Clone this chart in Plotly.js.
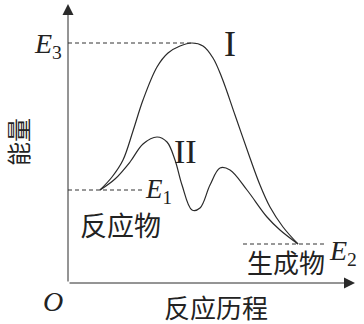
<!DOCTYPE html>
<html>
<head>
<meta charset="utf-8">
<script src="https://cdn.plot.ly/plotly-3.0.1.min.js"></script>
<style>html,body{margin:0;padding:0;background:#fff;}#chart{width:364px;height:324px;}</style>
</head>
<body>
<div id="chart"></div>
<script>
// Reaction progress / energy values
const pathIx = [32, 44, 55, 65, 75, 89, 100, 112, 124, 135, 145, 154, 167, 182, 192, 202, 215, 230];
const pathIy = [93, 106, 123, 152, 183, 216, 230, 237, 240, 237, 225, 205, 168, 125, 98, 76, 56, 39];
const pathIIx = [32, 47, 62, 75, 89, 99, 107, 114, 124, 132, 142, 152, 162, 179, 199, 212, 230];
const pathIIy = [93, 104, 121, 139, 146, 141, 123, 98, 73, 75, 98, 115, 113, 93, 66, 53, 39];
const levelNames = ['E1', 'E2', 'E3'];
const levelValues = [93, 39, 240];
const levelStart = [0, 175, 0];
const levelEnd = [77, 259, 124];
const axisMax = [287, 279];

const lineColor = '#2a2a2a';
const traces = [
  {x: pathIx, y: pathIy, mode: 'lines', line: {shape: 'spline', smoothing: 1, color: lineColor, width: 1.2}, hoverinfo: 'skip'},
  {x: pathIIx, y: pathIIy, mode: 'lines', line: {shape: 'spline', smoothing: 1, color: lineColor, width: 1.2}, hoverinfo: 'skip'}
];

const shapes = levelNames.map((n, i) => ({
  type: 'line', xref: 'x', yref: 'y',
  x0: levelStart[i], x1: levelEnd[i], y0: levelValues[i], y1: levelValues[i],
  line: {color: '#333', width: 1, dash: '4px,3px'}
}));

const serif = 'Liberation Serif, Times New Roman, serif';
const cjk = 'Noto Sans CJK SC, sans-serif';
// positions given in axis units, converted to paper fractions so labels outside the plot area still draw
const ann = (x, y, text, size, family, extra) => Object.assign({
  x: x / axisMax[0], y: y / axisMax[1], xref: 'paper', yref: 'paper', text: text, showarrow: false,
  xanchor: 'center', yanchor: 'middle',
  font: {size: size, family: family, color: '#222'}
}, extra || {});

const annotations = [
  {x: axisMax[0], y: 0, ax: 0, ay: 0, xref: 'x', yref: 'y', axref: 'x', ayref: 'y', text: '', showarrow: true,
   arrowhead: 2, arrowsize: 2.2, arrowwidth: 1, arrowcolor: lineColor, standoff: 0, startstandoff: 0},
  {x: 0, y: axisMax[1], ax: 0, ay: 0, xref: 'x', yref: 'y', axref: 'x', ayref: 'y', text: '', showarrow: true,
   arrowhead: 2, arrowsize: 2.2, arrowwidth: 1, arrowcolor: lineColor, standoff: 0, startstandoff: 0},
  ann(-4, levelValues[2] - 3, '<i>E</i><sub>3</sub>', 28, serif, {xanchor: 'right'}),
  ann(75, levelValues[0] - 1, '<i>E</i><sub>1</sub>', 27, serif, {xanchor: 'left'}),
  ann(259, levelValues[1] - 8, '<i>E</i><sub>2</sub>', 28, serif, {xanchor: 'left'}),
  ann(162, 239, 'I', 36, serif),
  ann(117, 132, 'II', 34, serif),
  ann(52, 59, '反应物', 27, cjk),
  ann(218, 22, '生成物', 26, cjk),
  ann(148, -23, '反应历程', 26, cjk),
  ann(-51, 141, '能量', 24, cjk, {textangle: -90}),
  ann(-15, -18, '<i>O</i>', 28, serif)
];

const layout = {
  width: 364, height: 324,
  margin: {l: 68, r: 9, t: 4, b: 41, pad: 0},
  paper_bgcolor: '#fff', plot_bgcolor: '#fff',
  showlegend: false,
  xaxis: {range: [0, axisMax[0]], visible: false, fixedrange: true},
  yaxis: {range: [0, axisMax[1]], visible: false, fixedrange: true},
  shapes: shapes,
  annotations: annotations
};

Plotly.newPlot('chart', traces, layout, {displayModeBar: false, staticPlot: true});
</script>
</body>
</html>
